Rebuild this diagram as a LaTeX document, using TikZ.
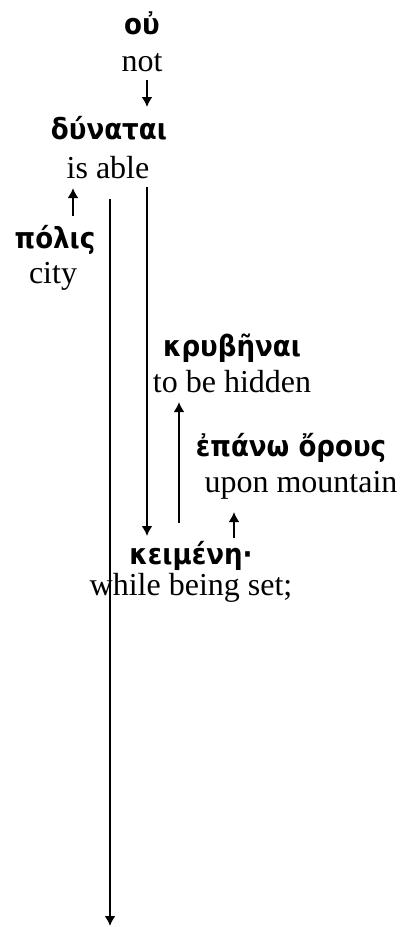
\documentclass[tikz,border=0pt]{standalone}
\usepackage{fontspec}
\setmainfont{Liberation Serif}
\newfontfamily\grk{DejaVu Sans}[Script=Greek,FakeStretch=0.9]
\usetikzlibrary{arrows.meta,calc}
\tikzset{
  gk/.style={anchor=base,inner sep=0pt,font=\grk\bfseries\fontsize{14.5}{16}\selectfont},
  en/.style={anchor=base,inner sep=0pt,font=\fontsize{16}{18}\selectfont},
  arr/.style={line width=1.1pt,-{Latex[length=5pt,width=5.5pt]}},
}
\begin{document}
\begin{tikzpicture}[x=0.5pt,y=-0.5pt]
\useasboundingbox (0,0) rectangle (404,927);
\node[gk] (ou) at (142,34) {οὐ};
\node[en] (not) at (142,71) {not};
\node[gk] (dun) at (109,139) {δύναται};
\node[en] (isable) at (108,178) {is able};
\node[gk] (polis) at (55,248) {πόλις};
\node[en] (city) at (53,283) {city};
\node[gk] (kruph) at (232,356) {κρυβῆναι};
\node[en] (hidden) at (232,392) {to be hidden};
\node[gk] (epano) at (291,456) {ἐπάνω ὄρους};
\node[en] (upon) at (301,492) {upon mountain};
\node[gk] (keim) at (191,564) {κειμένη·};
\node[en] (while) at (191,595) {while being set;};
\coordinate (bot) at (110,926);
\draw[arr] ($(not.base)+(5,9)$) -- ($(dun.base)+(38,-32)$);
\draw[arr] ($(polis.base)+(18,-32)$) -- ($(isable.base)+(-35,10)$);
\draw[arr] ($(isable.base)+(2,21)$) -- (bot);
\draw[arr] ($(isable.base)+(39,9)$) -- ($(keim.base)+(-44,-28)$);
\draw[arr] ($(keim.base)+(-12,-41)$) -- ($(hidden.base)+(-53,10)$);
\draw[arr] ($(keim.base)+(43,-26)$) -- ($(upon.base)+(-67,20)$);
\end{tikzpicture}
\end{document}
